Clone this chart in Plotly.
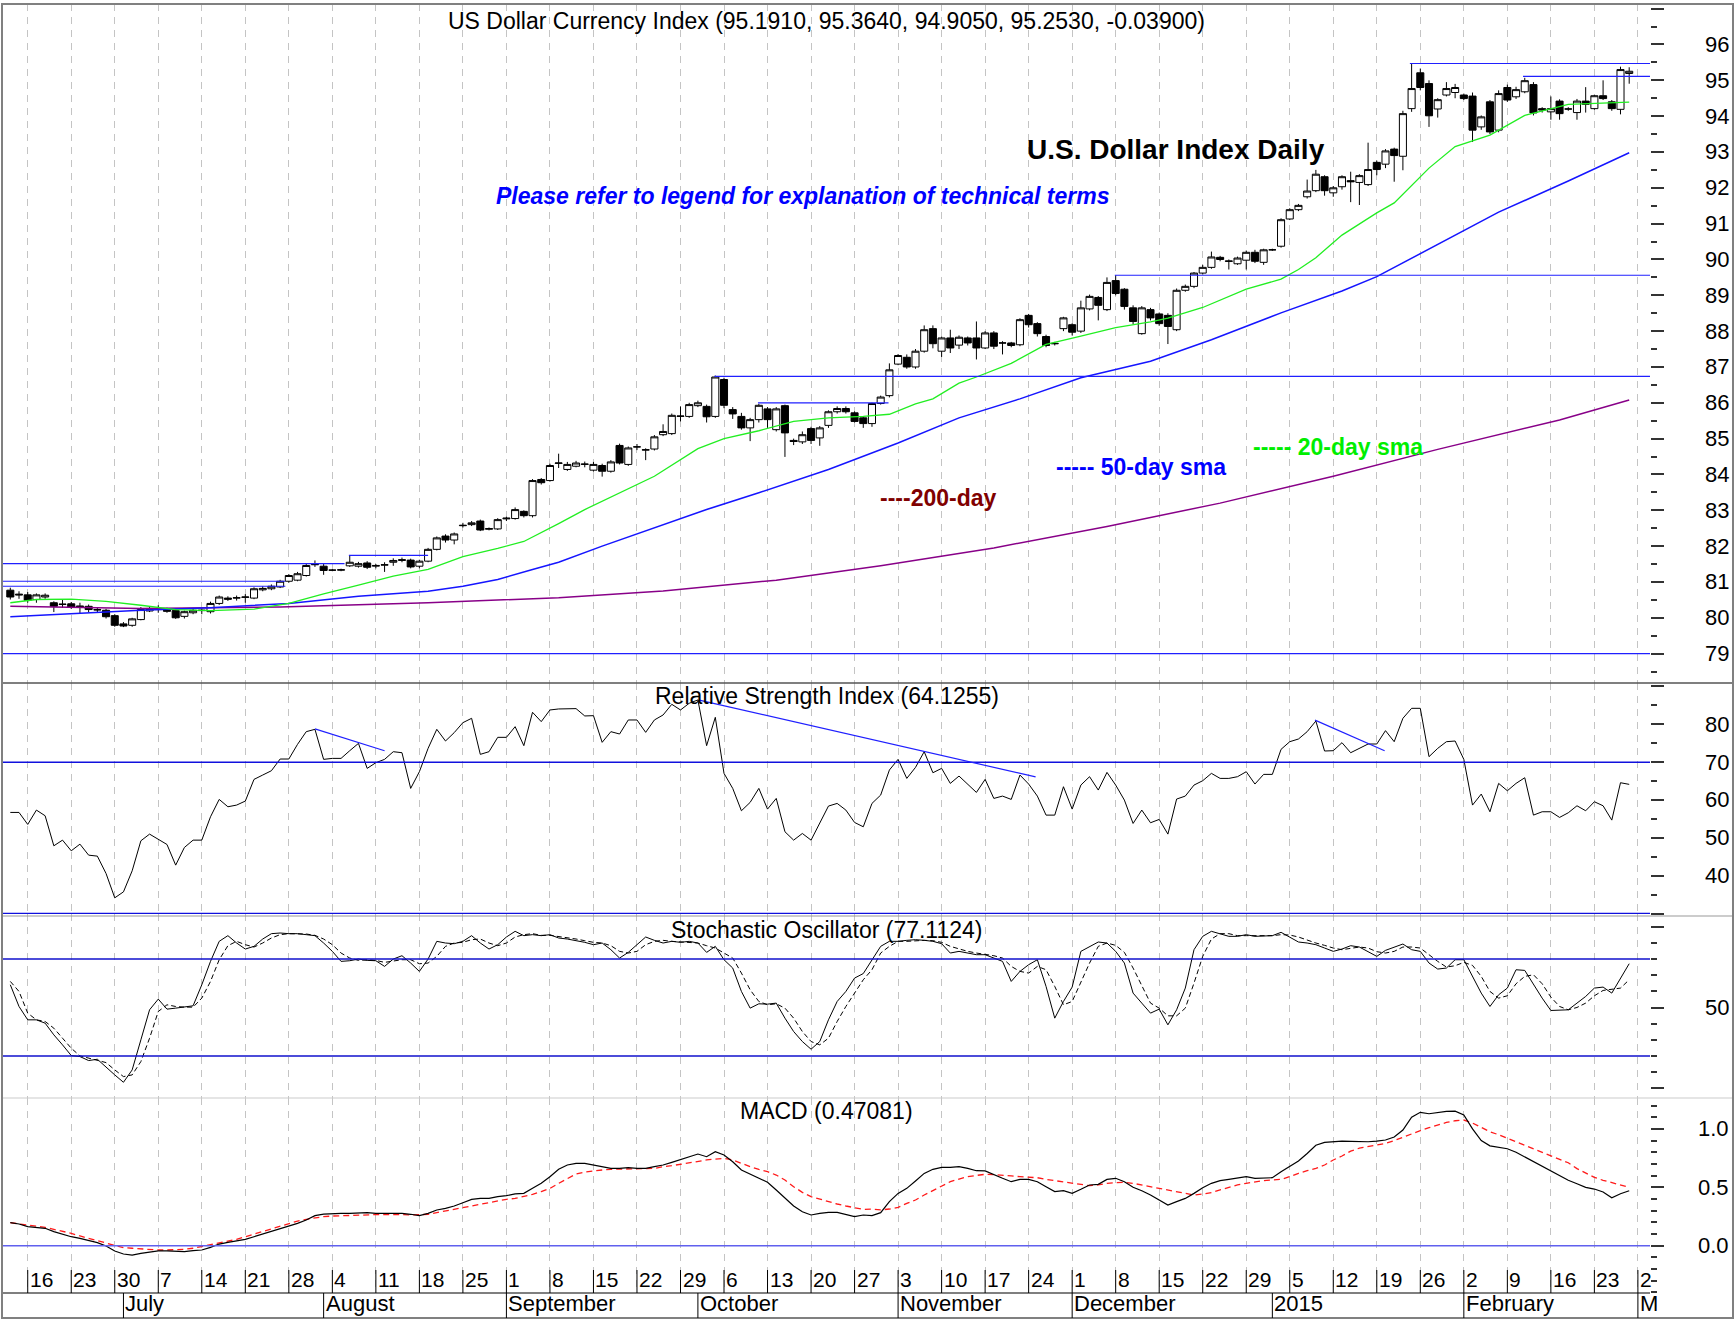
import plotly.graph_objects as go
import pandas as pd

# ---------------- data ----------------
dates = pd.bdate_range("2014-06-12", "2015-02-27")          # trading-day slots
axis_dates = pd.bdate_range("2014-06-12", "2015-03-02")     # incl. next Monday label

opens = [
80.77, 80.66, 80.64, 80.51, 80.58, 80.42, 80.37, 80.39, 80.33, 80.32,
80.23, 80.21, 80.06, 79.83, 79.79, 79.95, 80.19, 80.24, 80.23, 80.20,
80.04, 80.14, 80.20, 80.17, 80.40, 80.55, 80.55, 80.57, 80.55, 80.78,
80.81, 80.86, 81.02, 81.05, 81.18, 81.48, 81.44, 81.33, 81.33, 81.45,
81.44, 81.53, 81.44, 81.47, 81.55, 81.60, 81.61, 81.44, 81.58, 81.91,
82.28, 82.17, 82.57, 82.60, 82.70, 82.47, 82.48, 82.76, 82.77, 82.97,
82.85, 83.86, 83.83, 84.31, 84.14, 84.23, 84.28, 84.12, 84.25, 84.09,
84.81, 84.28, 84.77, 84.68, 84.71, 85.11, 85.14, 85.62, 85.62, 85.92,
85.90, 85.62, 86.65, 85.81, 85.62, 85.30, 85.53, 85.83, 85.25, 85.92,
84.95, 84.91, 85.28, 85.02, 85.37, 85.75, 85.84, 85.72, 85.58, 85.42,
85.98, 86.20, 87.08, 87.27, 87.00, 87.44, 88.07, 87.44, 87.81, 87.61,
87.81, 87.81, 87.53, 87.95, 87.67, 87.67, 87.62, 88.44, 88.21, 87.85,
87.66, 88.07, 88.18, 88.00, 88.62, 88.94, 88.60, 89.41, 89.17, 88.65,
87.93, 88.60, 88.48, 88.44, 88.04, 89.14, 89.25, 89.62, 89.78, 90.06,
89.96, 89.88, 89.98, 90.20, 89.92, 90.27, 90.37, 91.13, 91.39, 91.75,
91.92, 92.31, 91.86, 92.03, 92.20, 92.15, 92.09, 92.71, 92.66, 93.08,
92.88, 94.21, 95.21, 94.91, 94.20, 94.59, 94.66, 94.59, 94.56, 93.70,
94.40, 93.61, 94.80, 94.54, 94.68, 94.88, 94.21, 94.12, 94.42, 94.20,
94.10, 94.42, 94.21, 94.57, 94.40, 94.19, 95.191]

highs = [
80.84, 80.74, 80.72, 80.68, 80.68, 80.46, 80.50, 80.44, 80.42, 80.37,
80.30, 80.25, 80.10, 79.88, 80.00, 80.30, 80.30, 80.35, 80.28, 80.24,
80.20, 80.26, 80.26, 80.45, 80.62, 80.60, 80.62, 80.66, 80.85, 80.88,
80.93, 81.06, 81.22, 81.28, 81.50, 81.60, 81.50, 81.36, 81.37, 81.74,
81.56, 81.58, 81.50, 81.55, 81.66, 81.68, 81.65, 81.62, 81.95, 82.27,
82.33, 82.38, 82.65, 82.70, 82.74, 82.52, 82.78, 82.82, 83.08, 83.00,
83.87, 83.90, 84.30, 84.58, 84.35, 84.38, 84.36, 84.35, 84.30, 84.40,
84.86, 84.78, 84.85, 84.73, 85.10, 85.40, 85.70, 85.90, 86.00, 86.06,
85.95, 86.76, 86.70, 85.88, 85.72, 85.58, 85.97, 85.88, 85.88, 85.95,
85.00, 85.20, 85.33, 85.35, 85.79, 85.90, 85.90, 85.76, 85.62, 86.00,
86.20, 87.10, 87.36, 87.35, 87.50, 88.16, 88.16, 87.85, 88.04, 87.88,
87.85, 88.27, 88.00, 88.00, 87.72, 87.70, 88.36, 88.48, 88.25, 87.90,
87.70, 88.40, 88.22, 88.85, 89.02, 88.98, 89.50, 89.56, 89.20, 88.72,
88.70, 88.65, 88.52, 88.50, 89.19, 89.30, 89.65, 89.85, 90.22, 90.10,
90.00, 90.08, 90.25, 90.27, 90.30, 90.30, 91.15, 91.43, 91.55, 92.23,
92.50, 92.35, 92.05, 92.35, 92.45, 92.38, 93.26, 92.76, 93.08, 93.12,
94.15, 95.47, 95.33, 95.00, 94.50, 94.95, 94.90, 94.63, 94.66, 94.02,
94.45, 94.72, 94.88, 94.82, 95.07, 94.95, 94.25, 94.55, 94.47, 94.25,
94.48, 94.81, 94.60, 95.00, 94.45, 95.38, 95.364]

lows = [
80.51, 80.53, 80.42, 80.42, 80.53, 80.16, 80.28, 80.25, 80.12, 80.15,
80.15, 79.98, 79.75, 79.74, 79.75, 79.93, 80.16, 80.14, 80.14, 79.97,
79.98, 80.10, 80.10, 80.12, 80.36, 80.47, 80.48, 80.42, 80.52, 80.74,
80.77, 80.83, 80.98, 81.02, 81.15, 81.42, 81.20, 81.30, 81.30, 81.42,
81.40, 81.36, 81.38, 81.28, 81.45, 81.55, 81.38, 81.38, 81.55, 81.88,
82.10, 82.05, 82.52, 82.56, 82.42, 82.44, 82.45, 82.70, 82.74, 82.80,
82.80, 83.72, 83.80, 84.18, 84.10, 84.20, 84.20, 84.08, 83.94, 84.05,
84.28, 84.24, 84.68, 84.40, 84.67, 85.07, 85.10, 85.48, 85.58, 85.88,
85.45, 85.58, 85.85, 85.55, 85.25, 84.93, 85.45, 85.30, 85.20, 84.49,
84.82, 84.85, 84.85, 84.80, 85.30, 85.70, 85.70, 85.45, 85.30, 85.33,
85.95, 86.15, 87.05, 86.95, 86.95, 87.40, 87.52, 87.28, 87.39, 87.50,
87.60, 87.21, 87.50, 87.50, 87.35, 87.55, 87.58, 88.10, 87.85, 87.55,
87.60, 88.00, 87.88, 87.95, 88.58, 88.30, 88.56, 89.00, 88.60, 88.20,
87.90, 88.30, 88.15, 87.64, 88.00, 89.10, 89.20, 89.58, 89.74, 89.95,
89.72, 89.85, 89.72, 89.90, 89.85, 90.24, 90.33, 91.10, 91.35, 91.70,
91.88, 91.78, 91.75, 91.95, 91.60, 91.52, 92.05, 92.35, 92.55, 92.17,
92.49, 94.12, 94.72, 93.70, 93.96, 94.55, 94.50, 94.45, 93.28, 93.62,
93.50, 93.55, 94.40, 94.48, 94.64, 94.02, 94.10, 93.90, 93.90, 94.15,
93.90, 94.10, 94.18, 94.45, 94.15, 94.05, 94.905]

closes = [
80.58, 80.64, 80.49, 80.64, 80.63, 80.32, 80.38, 80.30, 80.31, 80.23,
80.22, 80.03, 79.79, 79.77, 79.97, 80.23, 80.26, 80.23, 80.18, 80.00,
80.17, 80.21, 80.21, 80.40, 80.58, 80.52, 80.56, 80.58, 80.81, 80.82,
80.88, 81.02, 81.18, 81.23, 81.46, 81.49, 81.32, 81.33, 81.34, 81.55,
81.51, 81.41, 81.46, 81.48, 81.60, 81.62, 81.42, 81.58, 81.91, 82.23,
82.17, 82.34, 82.58, 82.65, 82.45, 82.49, 82.74, 82.78, 83.02, 82.85,
83.83, 83.77, 84.25, 84.32, 84.28, 84.32, 84.29, 84.28, 84.09, 84.35,
84.32, 84.74, 84.77, 84.69, 85.05, 85.20, 85.65, 85.63, 85.95, 86.00,
85.61, 86.72, 85.93, 85.69, 85.30, 85.53, 85.93, 85.53, 85.83, 85.16,
84.92, 85.11, 84.95, 85.30, 85.75, 85.84, 85.75, 85.48, 85.42, 85.98,
86.16, 86.92, 87.32, 87.00, 87.44, 88.04, 87.65, 87.81, 87.53, 87.83,
87.67, 87.53, 87.95, 87.58, 87.67, 87.60, 88.32, 88.18, 87.93, 87.60,
87.65, 88.37, 87.97, 88.65, 88.97, 88.72, 89.36, 89.05, 88.69, 88.27,
88.65, 88.37, 88.21, 88.13, 89.14, 89.25, 89.62, 89.78, 90.07, 90.00,
89.95, 90.04, 90.20, 89.95, 90.27, 90.27, 91.11, 91.39, 91.51, 91.91,
92.38, 91.92, 92.00, 92.31, 92.17, 92.34, 92.51, 92.51, 93.03, 92.90,
94.07, 94.77, 94.80, 94.01, 94.46, 94.77, 94.80, 94.49, 93.61, 93.98,
93.56, 94.63, 94.45, 94.74, 94.99, 94.09, 94.17, 94.21, 94.07, 94.20,
94.42, 94.33, 94.57, 94.49, 94.21, 95.30, 95.253]

# moving averages, read at selected trading-day positions
sma20_i = [0, 3, 7, 11, 15, 19, 23, 28, 32, 36, 40, 44, 48, 52, 56, 59, 63, 66, 74, 79,
           82, 86, 90, 94, 98, 101, 104, 106, 109, 111, 115, 119, 123, 127, 131, 133, 137, 142, 146, 148,
           150, 153, 157, 159, 163, 166, 170, 174, 179, 183, 186]
sma20_v = [80.42, 80.51, 80.52, 80.46, 80.35, 80.23, 80.20, 80.24, 80.40, 80.67, 80.91, 81.16, 81.35, 81.71,
           81.94, 82.13, 82.63, 83.02, 83.95, 84.72, 85.00, 85.22, 85.48, 85.58, 85.62, 85.68, 85.97, 86.11,
           86.55, 86.72, 87.10, 87.63, 87.86, 88.10, 88.26, 88.36, 88.66, 89.17, 89.45, 89.72, 90.05, 90.68,
           91.30, 91.58, 92.55, 93.15, 93.47, 94.02, 94.33, 94.37, 94.39]
sma50_i = [0, 7, 15, 23, 32, 40, 48, 52, 56, 60, 63, 68, 74, 80, 86, 94, 102, 109, 116, 123,
           131, 138, 146, 153, 157, 163, 171, 179, 186]
sma50_v = [80.03, 80.12, 80.21, 80.28, 80.40, 80.60, 80.74, 80.88, 81.07, 81.35, 81.55, 82.00, 82.50, 83.02,
           83.49, 84.14, 84.88, 85.58, 86.11, 86.70, 87.16, 87.76, 88.51, 89.12, 89.52, 90.30, 91.32, 92.19, 92.98]
sma200_i = [0, 15, 31, 48, 63, 75, 88, 100, 113, 126, 139, 152, 164, 178, 186]
sma200_v = [80.32, 80.26, 80.30, 80.42, 80.56, 80.75, 81.05, 81.45, 81.95, 82.55, 83.20, 83.95, 84.70, 85.52, 86.08]

rsi = [
56.71, 56.71, 53.54, 57.33, 55.83, 47.89, 49.39, 46.57, 48.33, 45.42,
45.16, 40.57, 34.14, 35.72, 41.28, 49.21, 50.98, 49.65, 48.24, 42.78,
47.45, 49.39, 49.39, 55.56, 60.15, 58.21, 58.65, 59.71, 65.44, 66.59,
67.73, 70.82, 70.82, 74.70, 78.05, 78.67, 70.73, 70.99, 70.99, 73.02,
74.96, 68.35, 69.85, 70.73, 72.76, 72.49, 63.06, 67.47, 73.64, 78.67,
75.58, 77.79, 80.43, 81.58, 72.05, 72.76, 76.55, 76.55, 79.37, 74.35,
83.17, 80.70, 83.78, 84.05, 84.14, 84.14, 82.20, 82.28, 75.23, 78.05,
77.43, 81.14, 81.14, 77.87, 81.14, 82.46, 85.28, 83.78, 85.55, 86.43,
74.35, 81.84, 67.03, 63.06, 57.15, 59.36, 63.06, 57.59, 60.41, 51.60,
49.39, 51.15, 49.39, 54.06, 58.39, 59.09, 57.33, 54.06, 52.92, 59.09,
61.30, 67.91, 70.73, 65.70, 68.61, 72.76, 67.20, 68.35, 64.38, 66.32,
64.21, 62.00, 65.44, 60.41, 61.03, 60.15, 66.59, 64.21, 61.03, 56.00,
56.00, 63.50, 57.59, 63.94, 66.15, 62.62, 67.29, 63.94, 59.97, 53.80,
57.33, 53.98, 54.86, 50.98, 60.24, 61.03, 63.94, 65.09, 67.03, 65.70,
65.70, 66.15, 67.47, 64.21, 66.76, 66.76, 73.38, 75.40, 76.11, 78.05,
80.87, 72.94, 73.02, 75.14, 72.49, 73.64, 74.79, 74.79, 78.32, 75.40,
81.58, 84.22, 84.22, 71.44, 73.64, 75.40, 75.58, 70.73, 58.65, 61.56,
56.89, 64.38, 62.44, 64.38, 65.88, 56.00, 56.89, 56.89, 55.39, 56.62,
58.47, 57.15, 59.53, 58.47, 54.68, 64.56, 64.1255]

stoch_k = [
64.07, 50.64, 42.37, 42.37, 40.31, 33.08, 26.88, 20.26, 19.64, 17.16,
17.99, 13.44, 8.28, 3.73, 11.38, 29.98, 48.57, 55.19, 48.99, 49.61,
50.23, 51.05, 64.07, 78.54, 90.94, 94.45, 89.90, 86.18, 87.84, 92.38,
95.69, 96.10, 95.69, 95.69, 95.07, 94.45, 89.90, 84.74, 78.54, 78.95,
79.98, 79.16, 78.95, 75.44, 79.98, 82.05, 77.50, 72.34, 79.98, 90.94,
89.90, 89.49, 90.94, 94.45, 89.90, 86.18, 88.87, 93.62, 97.14, 94.45,
95.07, 94.45, 95.07, 93.00, 92.38, 91.56, 90.32, 88.87, 89.90, 85.77,
80.60, 84.12, 88.87, 93.62, 91.56, 89.90, 90.94, 90.32, 90.94, 89.90,
84.12, 87.84, 79.57, 74.41, 59.94, 49.61, 52.29, 52.09, 52.71, 43.41,
35.14, 28.94, 24.19, 28.94, 42.37, 53.74, 59.94, 68.21, 71.00, 79.57,
87.84, 90.94, 90.94, 91.56, 91.97, 91.56, 90.94, 89.49, 83.70, 84.74,
83.70, 82.67, 82.67, 80.60, 78.54, 66.14, 72.34, 76.47, 79.57, 63.04,
43.41, 53.74, 62.63, 84.74, 87.84, 90.53, 89.90, 84.74, 77.50, 58.91,
52.71, 46.51, 48.99, 39.28, 48.57, 62.01, 85.77, 94.04, 97.14, 95.69,
94.04, 94.04, 95.07, 94.04, 94.45, 94.45, 96.52, 93.62, 90.53, 89.90,
88.87, 86.81, 84.74, 86.18, 88.25, 87.42, 84.33, 81.64, 85.36, 87.42,
89.28, 85.77, 84.74, 77.50, 73.79, 74.41, 79.57, 79.57, 69.24, 58.91,
50.64, 57.87, 62.01, 73.37, 72.96, 64.07, 55.81, 48.16, 48.57, 48.57,
52.71, 56.84, 62.01, 62.63, 58.91, 68.21, 77.1124]

stoch_d = [
66.14, 59.94, 46.50, 42.37, 41.34, 37.20, 31.01, 24.81, 20.06, 18.61,
17.58, 15.92, 11.38, 7.24, 8.28, 16.54, 31.01, 47.54, 51.68, 50.64,
50.23, 50.23, 55.81, 66.14, 79.57, 88.25, 90.94, 88.87, 87.42, 89.90,
93.00, 95.07, 95.69, 95.69, 95.48, 94.66, 92.38, 88.87, 83.70, 80.60,
79.16, 79.57, 79.16, 77.92, 78.54, 79.57, 79.57, 77.09, 77.50, 81.64,
87.84, 89.90, 90.32, 91.97, 92.38, 89.90, 88.25, 89.90, 93.62, 95.07,
95.69, 94.66, 94.66, 94.04, 93.00, 92.38, 91.35, 90.32, 89.90, 88.25,
84.74, 83.70, 84.74, 88.87, 90.94, 91.56, 90.94, 90.52, 90.52, 89.90,
88.25, 86.80, 83.70, 80.60, 71.31, 60.97, 53.74, 51.68, 52.29, 49.61,
43.41, 35.14, 28.94, 26.88, 31.01, 41.34, 50.64, 58.91, 67.17, 73.37,
83.70, 87.84, 90.94, 90.94, 91.35, 91.56, 91.35, 90.32, 87.84, 86.18,
84.74, 83.70, 83.09, 82.05, 80.60, 75.44, 72.34, 71.31, 75.44, 73.37,
63.04, 51.67, 53.74, 66.14, 77.50, 87.84, 89.90, 88.46, 84.12, 74.41,
63.04, 52.71, 49.61, 44.85, 44.85, 49.61, 65.11, 81.64, 92.38, 95.69,
95.69, 94.45, 94.45, 94.45, 94.45, 94.45, 95.07, 94.86, 93.62, 91.56,
89.90, 88.46, 86.81, 85.77, 86.39, 87.42, 86.81, 84.53, 83.70, 84.74,
87.42, 87.42, 86.81, 82.67, 78.54, 75.03, 75.85, 77.92, 76.06, 69.24,
59.94, 55.81, 57.26, 64.69, 69.24, 70.27, 64.69, 56.43, 50.64, 48.57,
50.02, 52.71, 57.26, 60.56, 61.39, 62.01, 67.17]

macd = [
0.197, 0.186, 0.163, 0.154, 0.149, 0.120, 0.097, 0.077, 0.063, 0.043,
0.026, -0.002, -0.045, -0.071, -0.080, -0.065, -0.054, -0.045, -0.045, -0.051,
-0.051, -0.042, -0.037, -0.014, 0.014, 0.029, 0.043, 0.054, 0.077, 0.100,
0.120, 0.143, 0.169, 0.191, 0.220, 0.257, 0.271, 0.277, 0.277, 0.277,
0.283, 0.283, 0.277, 0.277, 0.277, 0.277, 0.269, 0.257, 0.277, 0.306,
0.320, 0.340, 0.368, 0.397, 0.405, 0.405, 0.420, 0.428, 0.443, 0.448,
0.491, 0.534, 0.591, 0.654, 0.691, 0.705, 0.705, 0.691, 0.671, 0.662,
0.662, 0.668, 0.662, 0.662, 0.677, 0.691, 0.714, 0.739, 0.762, 0.785,
0.762, 0.805, 0.777, 0.719, 0.648, 0.614, 0.577, 0.543, 0.477, 0.405,
0.340, 0.291, 0.263, 0.277, 0.286, 0.286, 0.269, 0.249, 0.263, 0.257,
0.283, 0.377, 0.448, 0.491, 0.554, 0.619, 0.654, 0.671, 0.671, 0.677,
0.662, 0.642, 0.640, 0.605, 0.577, 0.548, 0.568, 0.568, 0.548, 0.505,
0.463, 0.471, 0.448, 0.483, 0.520, 0.525, 0.568, 0.577, 0.548, 0.500,
0.471, 0.434, 0.391, 0.348, 0.377, 0.405, 0.448, 0.497, 0.534, 0.557,
0.568, 0.577, 0.591, 0.577, 0.582, 0.582, 0.634, 0.682, 0.725, 0.790,
0.860, 0.885, 0.890, 0.895, 0.893, 0.890, 0.890, 0.895, 0.905, 0.930,
0.990, 1.100, 1.142, 1.130, 1.140, 1.150, 1.152, 1.120, 1.000, 0.900,
0.855, 0.845, 0.830, 0.800, 0.760, 0.720, 0.680, 0.640, 0.600, 0.560,
0.530, 0.500, 0.485, 0.460, 0.410, 0.445, 0.47081]

macd_signal = [
0.197, 0.186, 0.177, 0.169, 0.157, 0.140, 0.126, 0.106, 0.083, 0.063,
0.043, 0.020, -0.002, -0.017, -0.022, -0.028, -0.031, -0.037, -0.037, -0.037,
-0.031, -0.022, -0.008, 0.006, 0.020, 0.034, 0.054, 0.077, 0.100, 0.120,
0.143, 0.169, 0.191, 0.211, 0.226, 0.240, 0.249, 0.254, 0.257, 0.263,
0.263, 0.263, 0.266, 0.266, 0.269, 0.266, 0.263, 0.263, 0.269, 0.283,
0.297, 0.311, 0.328, 0.343, 0.357, 0.371, 0.385, 0.397, 0.405, 0.420,
0.440, 0.463, 0.491, 0.534, 0.577, 0.614, 0.631, 0.642, 0.648, 0.654,
0.654, 0.657, 0.657, 0.660, 0.662, 0.677, 0.685, 0.697, 0.711, 0.725,
0.734, 0.742, 0.748, 0.734, 0.705, 0.677, 0.654, 0.634, 0.605, 0.562,
0.505, 0.457, 0.420, 0.397, 0.377, 0.357, 0.340, 0.326, 0.311, 0.314,
0.306, 0.314, 0.328, 0.363, 0.391, 0.434, 0.471, 0.511, 0.548, 0.571,
0.591, 0.602, 0.611, 0.608, 0.605, 0.597, 0.591, 0.585, 0.582, 0.568,
0.557, 0.545, 0.534, 0.522, 0.514, 0.520, 0.534, 0.540, 0.542, 0.534,
0.520, 0.505, 0.491, 0.477, 0.463, 0.448, 0.434, 0.443, 0.454, 0.477,
0.500, 0.520, 0.534, 0.548, 0.557, 0.562, 0.568, 0.591, 0.620, 0.642,
0.662, 0.691, 0.734, 0.768, 0.810, 0.835, 0.850, 0.865, 0.876, 0.900,
0.930, 0.960, 0.985, 1.010, 1.035, 1.055, 1.070, 1.076, 1.050, 1.010,
0.976, 0.950, 0.920, 0.890, 0.860, 0.830, 0.805, 0.770, 0.740, 0.710,
0.660, 0.620, 0.585, 0.560, 0.540, 0.520, 0.500]

# horizontal support / resistance lines on the price panel: level, from, to (trading-day index)
hl_level = [81.51, 81.74, 81.02, 80.88, 86.74, 86.00, 89.56, 95.47, 95.11, 79.00]
hl_from = [None, 38.9, None, None, 80.9, 85.9, 126.9, 160.8, 173.8, None]
hl_to = [38.4, 48.0, 31.6, 31.6, None, 100.9, None, None, None, None]

# RSI trendlines: (from idx, from value, to idx, to value)
rsi_tl = [(35.0, 78.8, 43.0, 73.0), (79.15, 86.4, 117.8, 66.1), (149.9, 81.1, 157.9, 73.0)]

price_labels = list(range(79, 97))
rsi_labels = [40, 50, 60, 70, 80]
stoch_labels = [50]
macd_labels = [0.0, 0.5, 1.0]
month_names = ["July", "August", "September", "October", "November", "December", "2015", "February", "M"]

# ---------------- layout geometry ----------------
W, H = 1735, 1319
ML, MR, MT, MB = 3, 85, 4, 26
PW, PH = W - ML - MR, H - MT - MB
FONT = "Liberation Sans, Arial, Helvetica, sans-serif"


def px(X):
    return (X - ML) / PW


def py(Y):
    return (H - MB - Y) / PH


n = len(dates)
idx = list(range(n))
XR = [-0.84, 188.39]
mondays = [i for i, d in enumerate(axis_dates) if d.weekday() == 0]
month_starts = []
seen = set()
for i, d in enumerate(axis_dates):
    key = (d.year, d.month)
    if key not in seen:
        seen.add(key)
        if i > 0:
            month_starts.append(i)

D_PRICE = [py(683), 1.0]
D_RSI = [py(914), py(683)]
D_STO = [py(1098), py(914)]
D_MACD = [0.0, py(1098)]

fig = go.Figure()
fig.add_trace(go.Candlestick(
    x=idx, open=opens, high=highs, low=lows, close=closes,
    increasing=dict(fillcolor="white", line=dict(color="black", width=1)),
    decreasing=dict(fillcolor="black", line=dict(color="black", width=1)),
    whiskerwidth=0, xaxis="x", yaxis="y", hoverinfo="skip"))
fig.add_trace(go.Scatter(x=sma200_i, y=sma200_v, mode="lines", line=dict(color="#880088", width=1.5),
                         xaxis="x", yaxis="y"))
fig.add_trace(go.Scatter(x=sma50_i, y=sma50_v, mode="lines", line=dict(color="#1515ff", width=1.5),
                         xaxis="x", yaxis="y"))
fig.add_trace(go.Scatter(x=sma20_i, y=sma20_v, mode="lines", line=dict(color="#22ee22", width=1.3),
                         xaxis="x", yaxis="y"))
fig.add_trace(go.Scatter(x=idx, y=rsi, mode="lines", line=dict(color="black", width=1),
                         xaxis="x2", yaxis="y2"))
fig.add_trace(go.Scatter(x=idx, y=stoch_d, mode="lines", line=dict(color="black", width=1, dash="5px,3px"),
                         xaxis="x3", yaxis="y3"))
fig.add_trace(go.Scatter(x=idx, y=stoch_k, mode="lines", line=dict(color="black", width=1),
                         xaxis="x3", yaxis="y3"))
fig.add_trace(go.Scatter(x=idx, y=macd_signal, mode="lines", line=dict(color="#ff1a1a", width=1.3, dash="6px,4px"),
                         xaxis="x4", yaxis="y4"))
fig.add_trace(go.Scatter(x=idx, y=macd, mode="lines", line=dict(color="black", width=1.2),
                         xaxis="x4", yaxis="y4"))


def xax(anchor):
    return dict(domain=[0, 1], range=XR, anchor=anchor, showticklabels=False, ticks="",
                tickmode="array", tickvals=mondays, showgrid=True, gridcolor="#c4c4c4",
                griddash="7px,6px", gridwidth=1, zeroline=False, showline=False, fixedrange=True)


def yax(anchor, dom, rng, dt, mdt):
    return dict(domain=dom, range=rng, anchor=anchor, side="right", tickmode="linear", tick0=0, dtick=dt,
                ticks="outside", ticklen=13, tickwidth=2, tickcolor="#333333", showticklabels=False,
                showgrid=False, zeroline=False, showline=False, fixedrange=True,
                minor=dict(tick0=0, dtick=mdt, ticks="outside", ticklen=6, tickwidth=1.5,
                           tickcolor="#333333", showgrid=False))


xa = xax("y")
xa["rangeslider"] = dict(visible=False)

shapes = []
# horizontal support/resistance lines
for lev, a, b in zip(hl_level, hl_from, hl_to):
    shapes.append(dict(type="line", xref="x", yref="y", x0=XR[0] if a is None else a,
                       x1=XR[1] if b is None else b, y0=lev, y1=lev,
                       line=dict(color="#2020ff", width=1.2)))
# RSI reference + trend lines
for lev in (70, 30):
    shapes.append(dict(type="line", xref="x2", yref="y2", x0=XR[0], x1=XR[1], y0=lev, y1=lev,
                       line=dict(color="#1010dd", width=1.5)))
for a, va, b, vb in rsi_tl:
    shapes.append(dict(type="line", xref="x2", yref="y2", x0=a, x1=b, y0=va, y1=vb,
                       line=dict(color="#2020ff", width=1.2)))
for lev in (80, 20):
    shapes.append(dict(type="line", xref="x3", yref="y3", x0=XR[0], x1=XR[1], y0=lev, y1=lev,
                       line=dict(color="#1010cc", width=1.5)))
shapes.append(dict(type="line", xref="x4", yref="y4", x0=XR[0], x1=XR[1], y0=0, y1=0,
                   line=dict(color="#6060ee", width=1.5)))
# panel separators and frame
shapes.append(dict(type="line", xref="paper", yref="paper", x0=px(3), x1=px(1732), y0=py(683), y1=py(683),
                   line=dict(color="#555555", width=1.5)))
shapes.append(dict(type="line", xref="paper", yref="paper", x0=px(3), x1=px(1732), y0=py(916), y1=py(916),
                   line=dict(color="#999999", width=1.2)))
shapes.append(dict(type="line", xref="paper", yref="paper", x0=px(3), x1=px(1732), y0=py(1098), y1=py(1098),
                   line=dict(color="#cccccc", width=1.2)))
shapes.append(dict(type="line", xref="paper", yref="paper", x0=px(3), x1=px(1650), y0=0, y1=0,
                   line=dict(color="black", width=1.2)))
shapes.append(dict(type="rect", xref="paper", yref="paper", x0=px(2), x1=px(1733), y0=py(1318), y1=py(4),
                   line=dict(color="#808080", width=2)))
# date separators and month separators
for m in mondays:
    shapes.append(dict(type="line", xref="x4", yref="paper", x0=m, x1=m, y0=0, y1=py(1270),
                       line=dict(color="black", width=1)))
for m in month_starts:
    shapes.append(dict(type="line", xref="x4", yref="paper", x0=m, x1=m, y0=py(1318), y1=0,
                       line=dict(color="black", width=1)))

ann = []


def text(x, y, s, size, color="black", xanchor="center", yanchor="middle", xref="paper", yref="paper", **kw):
    ann.append(dict(x=x, y=y, xref=xref, yref=yref, text=s, showarrow=False, xanchor=xanchor, yanchor=yanchor,
                    font=dict(family=FONT, size=size, color=color), **kw))


for v in price_labels:
    text(px(1731), v, str(v), 22, xanchor="right", yref="y")
for v in rsi_labels:
    text(px(1731), v, str(v), 22, xanchor="right", yref="y2")
for v in stoch_labels:
    text(px(1731), v, str(v), 22, xanchor="right", yref="y3")
for v in macd_labels:
    text(px(1731), v, f"{v:.1f}", 22, xanchor="right", yref="y4")

for m in mondays:
    text(m, 0, str(axis_dates[m].day), 21, xanchor="left", yanchor="bottom", xref="x4")
for m, name in zip(month_starts, month_names):
    text(m, py(1318), name, 22, xanchor="left", yanchor="bottom", xref="x4")

text(0.5, py(21), "US Dollar Currency Index (95.1910, 95.3640, 94.9050, 95.2530, -0.03900)", 23)
text(0.5, py(696), "Relative Strength Index (64.1255)", 23)
text(0.5, py(930), "Stochastic Oscillator (77.1124)", 23)
text(0.5, py(1111), "MACD (0.47081)", 23)
text(px(1176), py(150), "<b>U.S. Dollar Index Daily</b>", 28)
text(px(803), py(196), "<b><i>Please refer to legend for explanation of technical terms</i></b>", 23, color="#0000ff")
text(px(939), py(498), "<b>----200-day</b>", 23, color="#800000")
text(px(1141), py(467), "<b>----- 50-day sma</b>", 23, color="#0000ff")
text(px(1338), py(447), "<b>----- 20-day sma</b>", 23, color="#00ee00")

fig.update_layout(
    width=W, height=H, margin=dict(l=ML, r=MR, t=MT, b=MB, autoexpand=False),
    paper_bgcolor="white", plot_bgcolor="white", showlegend=False, hovermode=False,
    boxgap=0.1, boxgroupgap=0.1,
    xaxis=xa, xaxis2=xax("y2"), xaxis3=xax("y3"), xaxis4=xax("y4"),
    yaxis=yax("x", D_PRICE, [78.18, 97.13], 1, 0.5),
    yaxis2=yax("x2", D_RSI, [29.87, 90.91], 10, 5),
    yaxis3=yax("x3", D_STO, [-6.0, 107.86], 50, 10),
    yaxis4=yax("x4", D_MACD, [-0.405, 1.2646], 0.5, 0.1),
    shapes=shapes, annotations=ann,
    font=dict(family=FONT),
)

fig.write_html("out.html", config={"displayModeBar": False},
               post_script="document.body.style.margin='0';document.body.style.padding='0';")
